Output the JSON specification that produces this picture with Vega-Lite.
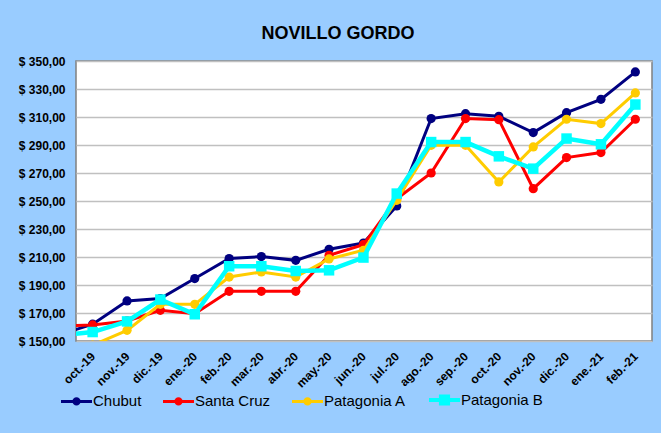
{
  "$schema": "https://vega.github.io/schema/vega-lite/v6.json",
  "autosize": {"type": "none"},
  "width": 576,
  "height": 280,
  "padding": {"left": 76, "top": 61, "right": 9, "bottom": 92},
  "background": "#99CCFF",
  "title": {
    "text": "NOVILLO GORDO",
    "anchor": "middle",
    "frame": "group",
    "dx": -26,
    "offset": 12,
    "font": "Liberation Sans",
    "fontSize": 18,
    "fontWeight": "bold",
    "color": "black"
  },
  "config": {
    "view": {"fill": "white", "stroke": "#808080", "strokeWidth": 1.5},
    "axis": {
      "domain": false,
      "ticks": false,
      "labelFont": "Liberation Sans",
      "labelFontWeight": "bold",
      "labelFontSize": 12,
      "labelColor": "black",
      "title": null
    }
  },
  "data": {
    "values": [
      {"mes": "2019-09-01T00:00:00", "serie": "Chubut", "precio": 154.4},
      {"mes": "2019-10-01T00:00:00", "serie": "Chubut", "precio": 162},
      {"mes": "2019-11-01T00:00:00", "serie": "Chubut", "precio": 178.6},
      {"mes": "2019-12-01T00:00:00", "serie": "Chubut", "precio": 180.3},
      {"mes": "2020-01-01T00:00:00", "serie": "Chubut", "precio": 194.6},
      {"mes": "2020-02-01T00:00:00", "serie": "Chubut", "precio": 208.9},
      {"mes": "2020-03-01T00:00:00", "serie": "Chubut", "precio": 210.3},
      {"mes": "2020-04-01T00:00:00", "serie": "Chubut", "precio": 207.6},
      {"mes": "2020-05-01T00:00:00", "serie": "Chubut", "precio": 215.5},
      {"mes": "2020-06-01T00:00:00", "serie": "Chubut", "precio": 220},
      {"mes": "2020-07-01T00:00:00", "serie": "Chubut", "precio": 246.5},
      {"mes": "2020-08-01T00:00:00", "serie": "Chubut", "precio": 308.9},
      {"mes": "2020-09-01T00:00:00", "serie": "Chubut", "precio": 312.4},
      {"mes": "2020-10-01T00:00:00", "serie": "Chubut", "precio": 310.5},
      {"mes": "2020-11-01T00:00:00", "serie": "Chubut", "precio": 298.9},
      {"mes": "2020-12-01T00:00:00", "serie": "Chubut", "precio": 313.1},
      {"mes": "2021-01-01T00:00:00", "serie": "Chubut", "precio": 322.6},
      {"mes": "2021-02-01T00:00:00", "serie": "Chubut", "precio": 342.2},
      {"mes": "2019-09-01T00:00:00", "serie": "Santa Cruz", "precio": 160.5},
      {"mes": "2019-10-01T00:00:00", "serie": "Santa Cruz", "precio": 161.5},
      {"mes": "2019-11-01T00:00:00", "serie": "Santa Cruz", "precio": 164.3},
      {"mes": "2019-12-01T00:00:00", "serie": "Santa Cruz", "precio": 171.9},
      {"mes": "2020-01-01T00:00:00", "serie": "Santa Cruz", "precio": 169.5},
      {"mes": "2020-02-01T00:00:00", "serie": "Santa Cruz", "precio": 185.5},
      {"mes": "2020-03-01T00:00:00", "serie": "Santa Cruz", "precio": 185.5},
      {"mes": "2020-04-01T00:00:00", "serie": "Santa Cruz", "precio": 185.5},
      {"mes": "2020-05-01T00:00:00", "serie": "Santa Cruz", "precio": 211.2},
      {"mes": "2020-06-01T00:00:00", "serie": "Santa Cruz", "precio": 218.8},
      {"mes": "2020-07-01T00:00:00", "serie": "Santa Cruz", "precio": 251.6},
      {"mes": "2020-08-01T00:00:00", "serie": "Santa Cruz", "precio": 270},
      {"mes": "2020-09-01T00:00:00", "serie": "Santa Cruz", "precio": 308.9},
      {"mes": "2020-10-01T00:00:00", "serie": "Santa Cruz", "precio": 308.1},
      {"mes": "2020-11-01T00:00:00", "serie": "Santa Cruz", "precio": 258.8},
      {"mes": "2020-12-01T00:00:00", "serie": "Santa Cruz", "precio": 281},
      {"mes": "2021-01-01T00:00:00", "serie": "Santa Cruz", "precio": 284.6},
      {"mes": "2021-02-01T00:00:00", "serie": "Santa Cruz", "precio": 308.4},
      {"mes": "2019-09-01T00:00:00", "serie": "Patagonia A", "precio": 145},
      {"mes": "2019-10-01T00:00:00", "serie": "Patagonia A", "precio": 147},
      {"mes": "2019-11-01T00:00:00", "serie": "Patagonia A", "precio": 157.6},
      {"mes": "2019-12-01T00:00:00", "serie": "Patagonia A", "precio": 176.2},
      {"mes": "2020-01-01T00:00:00", "serie": "Patagonia A", "precio": 176.2},
      {"mes": "2020-02-01T00:00:00", "serie": "Patagonia A", "precio": 195.7},
      {"mes": "2020-03-01T00:00:00", "serie": "Patagonia A", "precio": 199.3},
      {"mes": "2020-04-01T00:00:00", "serie": "Patagonia A", "precio": 195.7},
      {"mes": "2020-05-01T00:00:00", "serie": "Patagonia A", "precio": 208.6},
      {"mes": "2020-06-01T00:00:00", "serie": "Patagonia A", "precio": 214.8},
      {"mes": "2020-07-01T00:00:00", "serie": "Patagonia A", "precio": 250.5},
      {"mes": "2020-08-01T00:00:00", "serie": "Patagonia A", "precio": 289.8},
      {"mes": "2020-09-01T00:00:00", "serie": "Patagonia A", "precio": 289.8},
      {"mes": "2020-10-01T00:00:00", "serie": "Patagonia A", "precio": 263.6},
      {"mes": "2020-11-01T00:00:00", "serie": "Patagonia A", "precio": 288.6},
      {"mes": "2020-12-01T00:00:00", "serie": "Patagonia A", "precio": 308.4},
      {"mes": "2021-01-01T00:00:00", "serie": "Patagonia A", "precio": 305.3},
      {"mes": "2021-02-01T00:00:00", "serie": "Patagonia A", "precio": 327.2},
      {"mes": "2019-09-01T00:00:00", "serie": "Patagonia B", "precio": 154.1},
      {"mes": "2019-10-01T00:00:00", "serie": "Patagonia B", "precio": 156.4},
      {"mes": "2019-11-01T00:00:00", "serie": "Patagonia B", "precio": 164},
      {"mes": "2019-12-01T00:00:00", "serie": "Patagonia B", "precio": 179.6},
      {"mes": "2020-01-01T00:00:00", "serie": "Patagonia B", "precio": 169.1},
      {"mes": "2020-02-01T00:00:00", "serie": "Patagonia B", "precio": 203.4},
      {"mes": "2020-03-01T00:00:00", "serie": "Patagonia B", "precio": 203.4},
      {"mes": "2020-04-01T00:00:00", "serie": "Patagonia B", "precio": 200},
      {"mes": "2020-05-01T00:00:00", "serie": "Patagonia B", "precio": 200.5},
      {"mes": "2020-06-01T00:00:00", "serie": "Patagonia B", "precio": 209.6},
      {"mes": "2020-07-01T00:00:00", "serie": "Patagonia B", "precio": 255.3},
      {"mes": "2020-08-01T00:00:00", "serie": "Patagonia B", "precio": 292.1},
      {"mes": "2020-09-01T00:00:00", "serie": "Patagonia B", "precio": 292.1},
      {"mes": "2020-10-01T00:00:00", "serie": "Patagonia B", "precio": 281.9},
      {"mes": "2020-11-01T00:00:00", "serie": "Patagonia B", "precio": 273.1},
      {"mes": "2020-12-01T00:00:00", "serie": "Patagonia B", "precio": 294.6},
      {"mes": "2021-01-01T00:00:00", "serie": "Patagonia B", "precio": 290.5},
      {"mes": "2021-02-01T00:00:00", "serie": "Patagonia B", "precio": 318.9}
    ]
  },
  "encoding": {
    "x": {
      "field": "mes",
      "type": "temporal",
      "scale": {
        "domain": [{"year": 2019, "month": 9, "date": 16}, {"year": 2021, "month": 2, "date": 16}],
        "nice": false
      },
      "axis": {
        "grid": false,
        "labelAngle": -45,
        "labelAlign": "right",
        "labelBaseline": "middle",
        "labelPadding": 13,
        "labelOverlap": false,
        "values": [
          {"year": 2019, "month": 10, "date": 1},
          {"year": 2019, "month": 11, "date": 1},
          {"year": 2019, "month": 12, "date": 1},
          {"year": 2020, "month": 1, "date": 1},
          {"year": 2020, "month": 2, "date": 1},
          {"year": 2020, "month": 3, "date": 1},
          {"year": 2020, "month": 4, "date": 1},
          {"year": 2020, "month": 5, "date": 1},
          {"year": 2020, "month": 6, "date": 1},
          {"year": 2020, "month": 7, "date": 1},
          {"year": 2020, "month": 8, "date": 1},
          {"year": 2020, "month": 9, "date": 1},
          {"year": 2020, "month": 10, "date": 1},
          {"year": 2020, "month": 11, "date": 1},
          {"year": 2020, "month": 12, "date": 1},
          {"year": 2021, "month": 1, "date": 1},
          {"year": 2021, "month": 2, "date": 1}
        ],
        "labelExpr": "['ene.','feb.','mar.','abr.','may.','jun.','jul.','ago.','sep.','oct.','nov.','dic.'][month(datum.value)] + '-' + timeFormat(datum.value, '%y')"
      }
    },
    "y": {
      "field": "precio",
      "type": "quantitative",
      "scale": {"domain": [150, 350], "nice": false, "zero": false},
      "axis": {
        "values": [150, 170, 190, 210, 230, 250, 270, 290, 310, 330, 350],
        "grid": true,
        "gridColor": "#C0C0C0",
        "gridWidth": 1.5,
        "labelPadding": 11,
        "labelExpr": "'$ ' + replace(format(datum.value, '.2f'), '.', ',')"
      }
    },
    "color": {
      "field": "serie",
      "type": "nominal",
      "scale": {
        "domain": ["Chubut", "Santa Cruz", "Patagonia A", "Patagonia B"],
        "range": ["#000080", "#FF0000", "#FFCC00", "#00FFFF"]
      },
      "legend": {
        "orient": "none",
        "legendX": -7,
        "legendY": 331,
        "direction": "horizontal",
        "title": null,
        "symbolSize": 961,
        "symbolStrokeWidth": 3,
        "labelFont": "Liberation Sans",
        "labelFontSize": 15,
        "labelColor": "black",
        "labelOffset": 9,
        "columnPadding": 15,
        "encode": {
          "symbols": {
            "update": {
              "fill": {"scale": "color", "field": "value"},
              "stroke": {"scale": "color", "field": "value"},
              "opacity": {"value": 1},
              "fillOpacity": {"value": 1},
              "strokeWidth": {"signal": "datum.value === 'Patagonia B' ? 4 : 3"},
              "shape": {"signal": "datum.value === 'Patagonia B' ? 'M-1,0L1,0M-0.23,-0.23L0.23,-0.23L0.23,0.23L-0.23,0.23Z' : 'M-1,0L1,0M-0.17,0A0.17,0.17,0,1,1,0.17,0A0.17,0.17,0,1,1,-0.17,0Z'"}
            }
          }
        }
      }
    }
  },
  "layer": [
    {
      "transform": [{"filter": "datum.serie === 'Chubut'"}],
      "layer": [
        {"mark": {"type": "line", "strokeWidth": 3, "clip": true}},
        {"mark": {"type": "point", "filled": true, "size": 85, "opacity": 1, "clip": true}}
      ]
    },
    {
      "transform": [{"filter": "datum.serie === 'Santa Cruz'"}],
      "layer": [
        {"mark": {"type": "line", "strokeWidth": 3, "clip": true}},
        {"mark": {"type": "point", "filled": true, "size": 85, "opacity": 1, "clip": true}}
      ]
    },
    {
      "transform": [{"filter": "datum.serie === 'Patagonia A'"}],
      "layer": [
        {"mark": {"type": "line", "strokeWidth": 3, "clip": true}},
        {"mark": {"type": "point", "filled": true, "size": 85, "opacity": 1, "clip": true}}
      ]
    },
    {
      "transform": [{"filter": "datum.serie === 'Patagonia B'"}],
      "layer": [
        {"mark": {"type": "line", "strokeWidth": 4.5, "clip": true}},
        {"mark": {"type": "point", "shape": "square", "filled": true, "size": 110, "opacity": 1, "clip": true}}
      ]
    }
  ]
}
